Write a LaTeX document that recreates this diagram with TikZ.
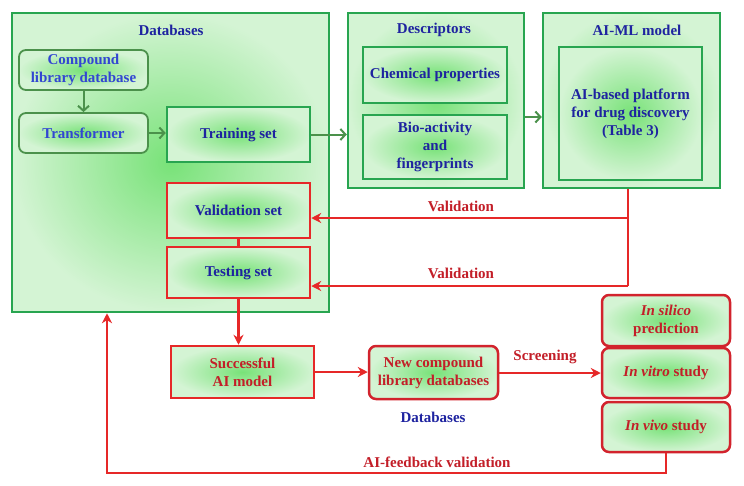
\documentclass[tikz,border=0pt]{standalone}
\usepackage{fontspec}
\setmainfont{Liberation Serif}
\usetikzlibrary{arrows.meta}
\definecolor{gborder}{RGB}{40,165,80}
\definecolor{gdark}{RGB}{75,145,75}
\definecolor{rborder}{RGB}{230,40,40}
\definecolor{rdark}{RGB}{210,35,45}
\definecolor{txtblue}{RGB}{30,35,160}
\definecolor{txtmid}{RGB}{50,70,210}
\definecolor{txtred}{RGB}{195,30,40}
\definecolor{gin}{RGB}{120,226,120}
\definecolor{gout}{RGB}{212,244,212}
\tikzset{
  x=1pt, y=-1pt,
  txt/.style={font=\fontsize{15}{18}\selectfont\bfseries, align=center},
  shade/.style={shading=radial, inner color=gin, outer color=gout},
  gframe/.style={draw=gborder, line width=2.5pt, shade, inner sep=0pt},
  gbox/.style={draw=gborder, line width=2.5pt, shade, txt, text=txtblue, inner sep=0pt},
  grbox/.style={draw=gdark, line width=1.8pt, rounded corners=7pt, shade, txt, text=txtmid, inner sep=0pt},
  rbox/.style={draw=rborder, line width=2.5pt, shade, txt, text=txtblue, inner sep=0pt},
  rsbox/.style={draw=rborder, line width=2.5pt, shade, txt, text=txtred, inner sep=0pt},
  rrbox/.style={draw=rdark, line width=2.5pt, rounded corners=7pt, shade, txt, text=txtred, inner sep=0pt},
  title/.style={txt, text=txtblue},
  rlabel/.style={txt, text=txtred},
  garrow/.style={draw=gdark, line width=2pt, -{Straight Barb[length=5pt,width=11pt,line width=2pt]}},
  rline/.style={draw=rborder, line width=2.2pt},
  rarrow/.style={draw=rborder, line width=2.2pt, -{Stealth[length=10pt,width=10pt]}},
}
\begin{document}
\begin{tikzpicture}
\useasboundingbox (0,0) rectangle (744,485);
\fill[white] (0,0) rectangle (744,485);

% outer frames
\node[gframe, minimum width=317pt, minimum height=299pt] (db) at (170.5,162.5) {};
\node[title] (dbt) at (171,30) {Databases};
\node[gframe, minimum width=176pt, minimum height=175pt] (desc) at (436,100.5) {};
\node[title] (desct) at (434,30) {Descriptors};
\node[gframe, minimum width=177pt, minimum height=175pt] (aiml) at (631.5,100.5) {};
\node[title] (aimlt) at (637,30) {AI-ML model};

% inner boxes
\node[grbox, minimum width=129pt, minimum height=40pt] (comp) at (83.5,70) {Compound\\library database};
\node[grbox, minimum width=129pt, minimum height=40pt] (trans) at (83.5,133) {Transformer};
\node[gbox, minimum width=143pt, minimum height=55pt] (train) at (238.5,134.5) {Training set};
\node[rbox, minimum width=143pt, minimum height=55pt] (val) at (238.5,210.5) {Validation set};
\node[rbox, minimum width=143pt, minimum height=51pt] (test) at (238.5,272.5) {Testing set};
\node[gbox, minimum width=144pt, minimum height=56pt] (chem) at (435,75) {Chemical properties};
\node[gbox, minimum width=144pt, minimum height=64pt] (bio) at (435,147) {Bio-activity\\and\\fingerprints};
\node[gbox, minimum width=143pt, minimum height=133pt] (plat) at (630.5,113.5) {AI-based platform\\for drug discovery\\(Table 3)};

% lower part
\node[rsbox, minimum width=143pt, minimum height=52pt] (succ) at (242.5,372) {Successful\\AI model};
\node[rrbox, minimum width=129pt, minimum height=53pt] (newc) at (433.5,372.5) {New compound\\library databases};
\node[title] (dbl) at (433,417) {Databases};
\node[rrbox, minimum width=128pt, minimum height=51pt] (silico) at (666,320.5) {\textit{In silico}\\prediction};
\node[rrbox, minimum width=128pt, minimum height=50pt] (vitro) at (666,373) {\textit{In vitro} study};
\node[rrbox, minimum width=128pt, minimum height=50pt] (vivo) at (666,427) {\textit{In vivo} study};

% green arrows
\draw[garrow] (comp) -- (trans);
\draw[garrow] (trans) -- (trans -| train.west);
\draw[garrow] (train) -- (train -| desc.west);
\coordinate (dy) at (0,117);
\draw[garrow] (desc.east |- dy) -- (aiml.west |- dy);

% validation connectors
\coordinate (vx) at (628,0);
\coordinate (jv) at (628,218);
\coordinate (jt) at (628,286);
\draw[rline] (aiml.south -| vx) -- (jt);
\draw[rarrow] (jv) -- (jv -| val.east);
\draw[rarrow] (jt) -- (jt -| test.east);
\node[rlabel] (vl1) at (461,206) {Validation};
\node[rlabel] (vl2) at (461,273) {Validation};
\draw[rline] (val.south) -- (test.north);

% lower flow
\draw[rarrow] (test.south) -- (test.south |- succ.north);
\draw[rarrow] (succ.east) -- (succ.east -| newc.west);
\draw[rarrow] (newc.east |- vitro) -- (vitro.west);
\node[rlabel] (scr) at (545,357) {Screening};

% feedback
\coordinate (fb1) at (666,473);
\coordinate (fb2) at (107,473);
\draw[rarrow] (vivo.south -| fb1) -- (fb1) -- (fb2) -- (fb2 |- db.south);
\node[rlabel] (fbl) at (437,462) {AI-feedback validation};
\end{tikzpicture}
\end{document}
